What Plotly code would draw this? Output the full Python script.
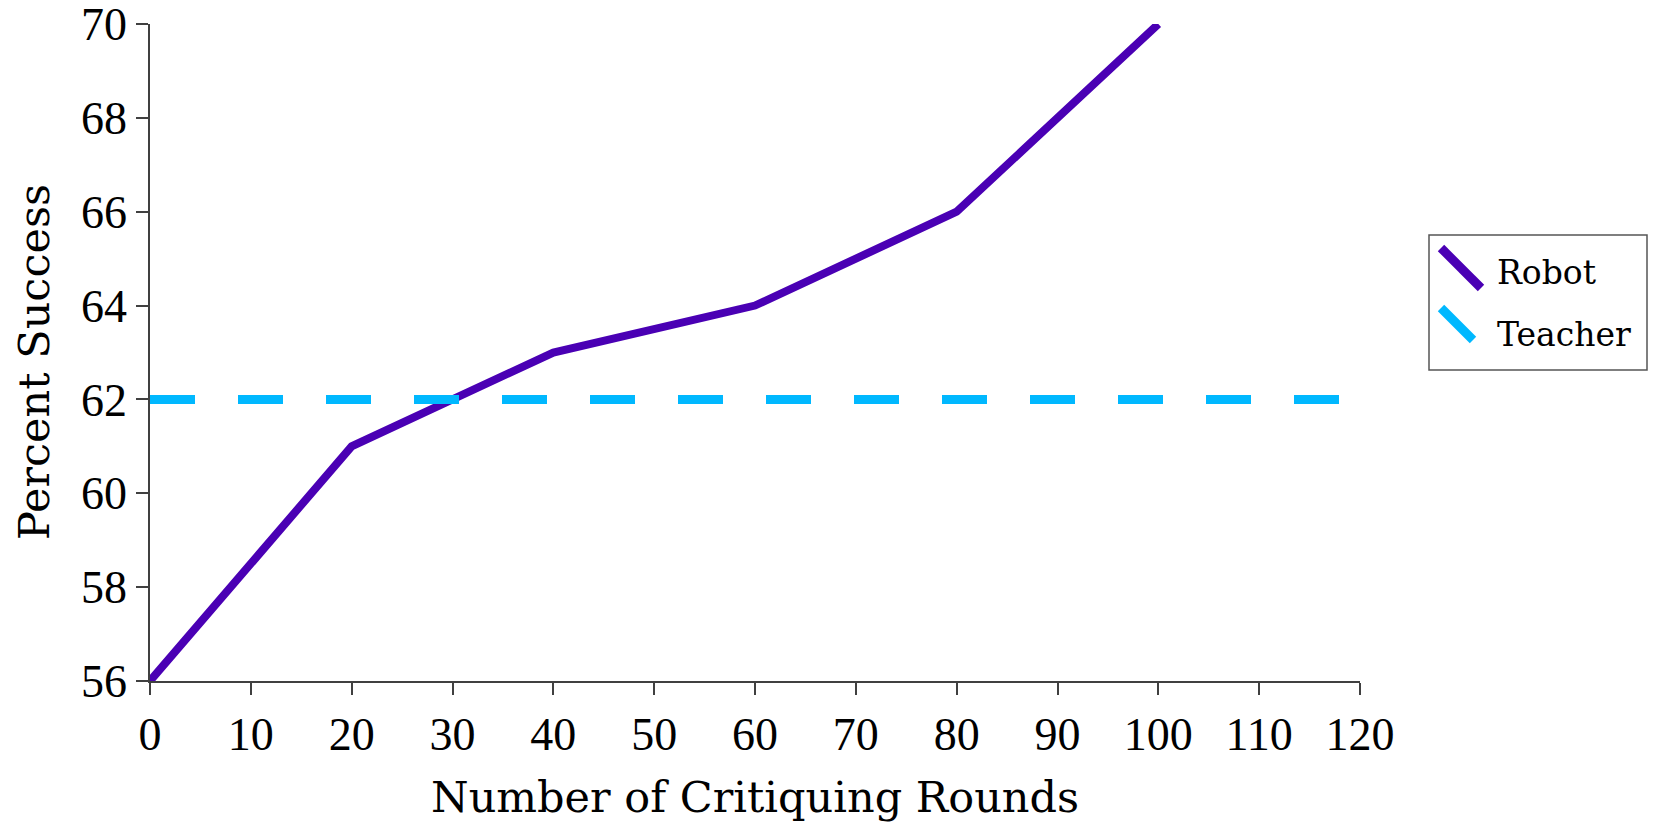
import plotly.graph_objects as go

# Data
rounds = [0, 20, 40, 60, 80, 100]
robot_success = [56, 61, 63, 64, 66, 70]
teacher_rounds = [0, 120]
teacher_success = [62, 62]

x_ticks = [0, 10, 20, 30, 40, 50, 60, 70, 80, 90, 100, 110, 120]
y_ticks = [56, 58, 60, 62, 64, 66, 68, 70]

series_names = ["Robot", "Teacher"]
series_colors = ["#4A00B4", "#00B8FF"]

TICK_FONT = "Liberation Serif"
TEXT_FONT = "DejaVu Serif"
W, H = 1654, 824
M_L, M_R, M_T, M_B = 150, 294, 24, 143
PW = W - M_L - M_R
PH = H - M_T - M_B


def px(xp):
    return (xp - M_L) / PW


def py(yp):
    return 1 - (yp - M_T) / PH


fig = go.Figure()
fig.add_trace(go.Scatter(
    x=rounds, y=robot_success, mode="lines", name=series_names[0],
    line=dict(color=series_colors[0], width=8), showlegend=False,
))
fig.add_trace(go.Scatter(
    x=teacher_rounds, y=teacher_success, mode="lines", name=series_names[1],
    line=dict(color=series_colors[1], width=9, dash="45px,43px"), showlegend=False,
))

axis_common = dict(
    showgrid=False, zeroline=False, showline=True, linecolor="#404040", linewidth=1.5,
    ticks="outside", ticklen=12, tickcolor="#404040", tickwidth=1.5,
    tickfont=dict(family=TICK_FONT, size=46, color="black"),
    automargin=False, ticklabeloverflow="allow",
)
fig.update_xaxes(range=[0, 120], tickvals=x_ticks, **axis_common)
fig.update_yaxes(range=[56, 70], tickvals=y_ticks, **axis_common)

# Axis titles
fig.add_annotation(
    text="Number of Critiquing Rounds", xref="paper", yref="paper",
    x=0.5, y=py(797), xanchor="center", yanchor="middle", showarrow=False,
    font=dict(family=TEXT_FONT, size=43, color="black"),
)
fig.add_annotation(
    text="Percent Success", xref="paper", yref="paper",
    x=px(34), y=py(362), xanchor="center", yanchor="middle", showarrow=False,
    textangle=-90, font=dict(family=TEXT_FONT, size=43, color="black"),
)

# Legend box with diagonal line keys
fig.add_shape(type="rect", xref="paper", yref="paper",
              x0=px(1429), x1=px(1647), y0=py(370), y1=py(235),
              line=dict(color="#555555", width=1.5), fillcolor="white")
key_rows = [(248, 288), (308, 340)]
label_y = [272, 334]
for name, color, (y0, y1), ly in zip(series_names, series_colors, key_rows, label_y):
    fig.add_shape(type="line", xref="paper", yref="paper",
                  x0=px(1441), y0=py(y0), x1=px(1441 + (y1 - y0)), y1=py(y1),
                  line=dict(color=color, width=9))
    fig.add_annotation(
        text=name, xref="paper", yref="paper", x=px(1495), y=py(ly),
        xanchor="left", yanchor="middle", showarrow=False,
        font=dict(family=TEXT_FONT, size=33, color="black"),
    )

fig.update_layout(
    width=W, height=H,
    margin=dict(l=M_L, r=M_R, t=M_T, b=M_B),
    plot_bgcolor="white", paper_bgcolor="white",
    showlegend=False,
)

fig.write_html("out.html")
